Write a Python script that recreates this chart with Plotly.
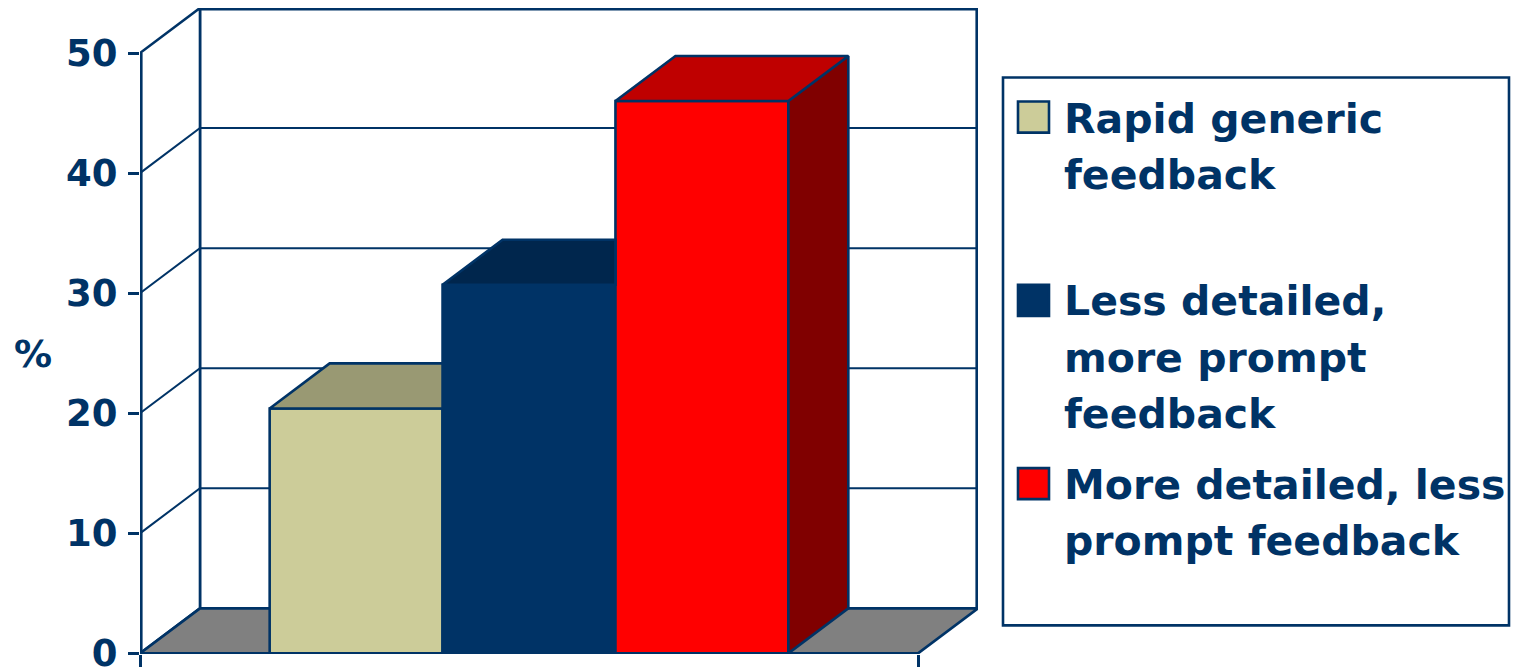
import plotly.graph_objects as go

# ---- data ----
series_names = [
    "Rapid generic<br>feedback",
    "Less detailed,<br>more prompt<br>feedback",
    "More detailed, less<br>prompt feedback",
]
values = [20.4, 30.7, 46.0]
y_ticks = [0, 10, 20, 30, 40, 50]
y_max = 50

# ---- styling ----
NAVY = "#003366"
front_colors = ["#CCCC99", "#003366", "#FF0000"]
top_colors = ["#999973", "#00264D", "#BF0000"]
side_colors = ["#999973", "#00264D", "#800000"]
FLOOR = "#808080"
FONT = "DejaVu Sans"
EDGE_W = 2.6
GRID_W = 2.0

W, H = 1513, 669
ML, MR, MT, MB = 140, 535, 8, 16
PW, PH = W - ML - MR, H - MT - MB

GAP = 0.75          # gap on each side of the bar group, in bar widths
n = len(values)
x_end = 2 * GAP + n  # front edge length of the category axis
DDX = 0.347          # depth offset (x units)
DDY = 3.75           # depth offset (y units)
Y_PAD = 0.05         # keeps the 0 tick inside the axis range
x_range = [0, x_end + DDX]
y_range = [-Y_PAD, y_max + DDY]
MB_ADJ = MB - Y_PAD * PH / (y_max + DDY)

centers = [GAP + i + 0.5 for i in range(n)]

fig = go.Figure()

# front faces of the bars
for i in range(n):
    fig.add_trace(go.Bar(
        x=[centers[i]], y=[values[i]], width=[1.0], base=0,
        marker=dict(color=front_colors[i], line=dict(color=NAVY, width=EDGE_W)),
        name=series_names[i].replace("<br>", " "), showlegend=False,
        hoverinfo="skip",
    ))

# top and side faces (the parts not hidden by the next, taller bar)
for i in range(n):
    v = values[i]
    x0, x1 = centers[i] - 0.5, centers[i] + 0.5
    hidden = i + 1 < n and values[i + 1] >= v + DDY
    if hidden:
        tx = [x0, x1, x1, x0 + DDX, x0]
        ty = [v, v, v + DDY, v + DDY, v]
    else:
        tx = [x0, x1, x1 + DDX, x0 + DDX, x0]
        ty = [v, v, v + DDY, v + DDY, v]
        fig.add_trace(go.Scatter(
            x=[x1, x1 + DDX, x1 + DDX, x1, x1],
            y=[0, DDY, v + DDY, v, 0],
            mode="lines", fill="toself", fillcolor=side_colors[i],
            line=dict(color=NAVY, width=EDGE_W), showlegend=False, hoverinfo="skip",
        ))
    fig.add_trace(go.Scatter(
        x=tx, y=ty, mode="lines", fill="toself", fillcolor=top_colors[i],
        line=dict(color=NAVY, width=EDGE_W), showlegend=False, hoverinfo="skip",
    ))

shapes = []
# back wall
shapes.append(dict(type="path", xref="x", yref="y", layer="below",
                   path=f"M{DDX},{DDY} L{x_end + DDX},{DDY} L{x_end + DDX},{y_max + DDY} L{DDX},{y_max + DDY} Z",
                   fillcolor="white", line=dict(color=NAVY, width=EDGE_W)))
# side wall
shapes.append(dict(type="path", xref="x", yref="y", layer="below",
                   path=f"M0,0 L{DDX},{DDY} L{DDX},{y_max + DDY} L0,{y_max} Z",
                   fillcolor="white", line=dict(color=NAVY, width=EDGE_W)))
# gridlines on side and back walls
for v in y_ticks[1:-1]:
    shapes.append(dict(type="path", xref="x", yref="y", layer="below",
                       path=f"M0,{v} L{DDX},{v + DDY} L{x_end + DDX},{v + DDY}",
                       line=dict(color=NAVY, width=GRID_W)))
# floor
shapes.append(dict(type="path", xref="x", yref="y", layer="below",
                   path=f"M0,0 L{x_end},0 L{x_end + DDX},{DDY} L{DDX},{DDY} Z",
                   fillcolor=FLOOR, line=dict(color=NAVY, width=EDGE_W)))
# edges lying on the plot boundary (drawn wider since half is clipped)
for path in [f"M0,0 L0,{y_max}",
             f"M{DDX},{y_max + DDY} L{x_end + DDX},{y_max + DDY}",
             f"M{x_end + DDX},{DDY} L{x_end + DDX},{y_max + DDY}"]:
    shapes.append(dict(type="path", xref="x", yref="y", layer="below",
                       path=path, line=dict(color=NAVY, width=2 * EDGE_W)))


def fx(px):
    return (px - ML) / PW


def fy(py):
    return (H - MB_ADJ - py) / PH


# legend box
shapes.append(dict(type="rect", xref="paper", yref="paper",
                   x0=fx(1003), x1=fx(1509), y0=fy(625), y1=fy(78),
                   line=dict(color=NAVY, width=EDGE_W), fillcolor="white"))

annotations = []
square_tops = [102, 285, 468]
line_centers = [[119, 175], [301, 358, 414], [485, 541]]
for i in range(n):
    t = square_tops[i]
    shapes.append(dict(type="rect", xref="paper", yref="paper",
                       x0=fx(1018), x1=fx(1049), y0=fy(t + 31), y1=fy(t),
                       fillcolor=front_colors[i], line=dict(color=NAVY, width=EDGE_W)))
    for line_text, cy in zip(series_names[i].split("<br>"), line_centers[i]):
        annotations.append(dict(
            text=line_text, xref="paper", yref="paper", x=fx(1062), y=fy(cy),
            xanchor="left", yanchor="middle", showarrow=False,
            font=dict(family=FONT, size=41, color=NAVY, weight="bold"),
        ))

# axis title
annotations.append(dict(
    text="%", xref="paper", yref="paper", x=fx(33), y=fy(354),
    xanchor="center", yanchor="middle", showarrow=False,
    font=dict(family=FONT, size=38, color=NAVY, weight="bold"),
))

fig.update_layout(
    width=W, height=H,
    margin=dict(l=ML, r=MR, t=MT, b=MB_ADJ, autoexpand=False),
    paper_bgcolor="white", plot_bgcolor="white",
    barmode="overlay",
    showlegend=False,
    shapes=shapes,
    annotations=annotations,
    xaxis=dict(range=x_range, tickvals=[0, x_end], ticktext=["", ""],
               ticks="outside", ticklen=12, tickwidth=2.5, tickcolor=NAVY,
               showgrid=False, zeroline=False, showline=False, fixedrange=True),
    yaxis=dict(range=y_range, tickvals=y_ticks, ticks="outside", ticklen=11,
               tickwidth=2.5, tickcolor=NAVY, ticklabelstandoff=3,
               ticklabeloverflow="allow",
               tickfont=dict(family=FONT, size=37, color=NAVY, weight="bold"),
               showgrid=False, zeroline=False, showline=False, fixedrange=True),
)

fig.write_html("out.html")
